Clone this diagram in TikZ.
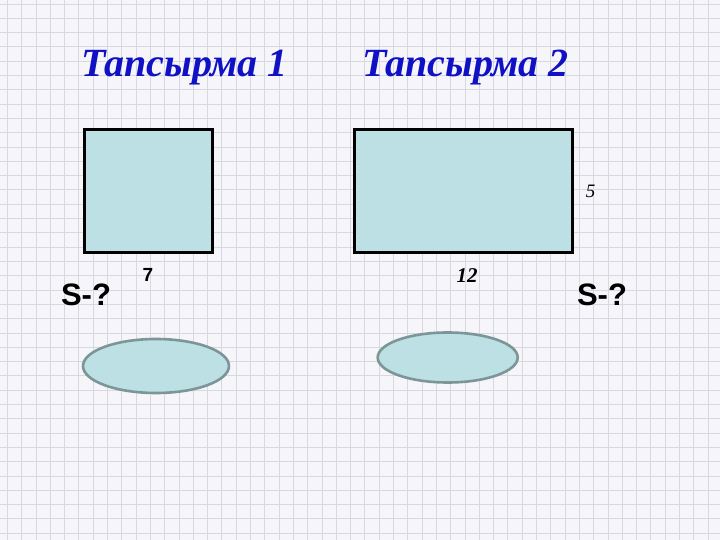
\documentclass[tikz,border=0pt]{standalone}
\usepackage{fontspec}
\setmainfont{Liberation Serif}
\setsansfont{Liberation Sans}
\usetikzlibrary{shapes.geometric}
\definecolor{titleblue}{RGB}{16,16,196}
\definecolor{shapefill}{RGB}{188,224,228}
\definecolor{ellborder}{RGB}{124,150,152}
\definecolor{gridc}{RGB}{216,216,224}
\definecolor{paper}{RGB}{246,246,250}
\tikzset{
  gridline/.style={draw=gridc, line width=0.8pt},
  title/.style={text=titleblue, font=\fontsize{40}{44}\selectfont\bfseries\itshape, anchor=base},
  figbox/.style={draw=black, line width=3pt, fill=shapefill, inner sep=0pt},
  answer/.style={ellipse, draw=ellborder, line width=2.6pt, fill=shapefill, inner sep=0pt},
  question/.style={font=\fontsize{31}{34}\selectfont\sffamily\bfseries},
  dimlabel/.style={font=\fontsize{21}{24}\selectfont\bfseries\itshape},
}
\begin{document}
\begin{tikzpicture}[x=1pt,y=-1pt]
\useasboundingbox (0,0) rectangle (720,540);
\fill[paper] (0,0) rectangle (720,540);
\foreach \i in {0,...,50} {
  \draw[gridline] ({7.3+14.3*\i},0) -- ({7.3+14.3*\i},540);
}
\foreach \j in {0,...,38} {
  \draw[gridline] (0,{4+14.3*\j}) -- (720,{4+14.3*\j});
}
\node[title] (t1) at (184.5,77) {Тапсырма 1};
\node[title] (t2) at (465.5,77) {Тапсырма 2};
\node[figbox, minimum width=128pt, minimum height=123pt] (sq) at (148.7,191.3) {};
\node[figbox, minimum width=218pt, minimum height=123pt] (rect) at (463.8,191.3) {};
\node[font=\fontsize{19}{22}\selectfont\sffamily\bfseries] (l7) at (148,275) {7};
\node[dimlabel] (l12) at (467,276) {12};
\node[font=\fontsize{19}{22}\selectfont\itshape] (l5) at (590.5,191.5) {5};
\node[question] (q1) at (86,295) {S-?};
\node[question] (q2) at (602,295) {S-?};
\node[answer, minimum width=146pt, minimum height=54pt] (e1) at (156,366) {};
\node[answer, minimum width=140pt, minimum height=50pt] (e2) at (447.7,357.5) {};
\end{tikzpicture}
\end{document}
